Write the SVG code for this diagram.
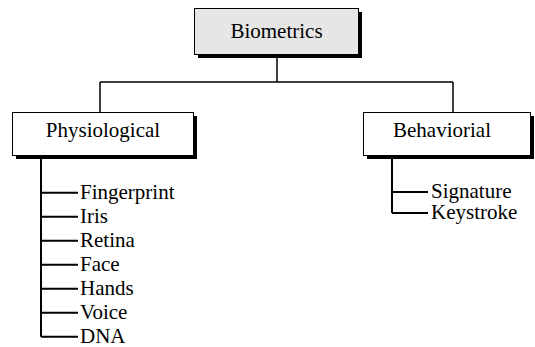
<svg xmlns="http://www.w3.org/2000/svg" width="535" height="347" viewBox="0 0 535 347">
<style>
.shadow{fill:#000}
.box{stroke:#000;stroke-width:1}
.conn{stroke:#000;stroke-width:2;fill:none}
.thin{stroke:#000;stroke-width:1.5;fill:none}
</style>
<rect width="535" height="347" fill="#fff"/>
<g id="connectors">
<path class="thin" d="M277 57V82M100 82H453M100 82V112M453 82V112"/>
<path class="conn" d="M41 159V336.7M41 192.7H78M41 216.7H78M41 240.7H78M41 264.7H78M41 288.7H78M41 312.7H78M41 336.7H78"/>
<path class="conn" d="M392 159V213M392 192H428M392 213H428"/>
</g>
<g font-family="Liberation Serif, Times New Roman, serif" font-size="21" fill="#000">
<g id="biometrics">
<rect class="shadow" x="198" y="12" width="164" height="46"/>
<rect class="box" x="194.5" y="8.5" width="164" height="46" fill="#e6e6e6"/>
<text x="276.5" y="38" text-anchor="middle">Biometrics</text>
</g>
<g id="physiological">
<rect class="shadow" x="16" y="116" width="181" height="43"/>
<rect class="box" x="12.5" y="112.5" width="181" height="43" fill="#fff"/>
<text x="103" y="137" text-anchor="middle">Physiological</text>
</g>
<g id="behaviorial">
<rect class="shadow" x="367" y="116" width="167" height="43"/>
<rect class="box" x="363.5" y="112.5" width="167" height="43" fill="#fff"/>
<text x="442" y="137" text-anchor="middle">Behaviorial</text>
</g>
<g id="physiological-items">
<text x="80" y="198.7">Fingerprint</text>
<text x="80" y="222.7">Iris</text>
<text x="80" y="246.7">Retina</text>
<text x="80" y="270.7">Face</text>
<text x="80" y="294.7">Hands</text>
<text x="80" y="318.7">Voice</text>
<text x="80" y="342.7">DNA</text>
</g>
<g id="behaviorial-items">
<text x="431" y="198">Signature</text>
<text x="431" y="219">Keystroke</text>
</g>
</g>
</svg>
